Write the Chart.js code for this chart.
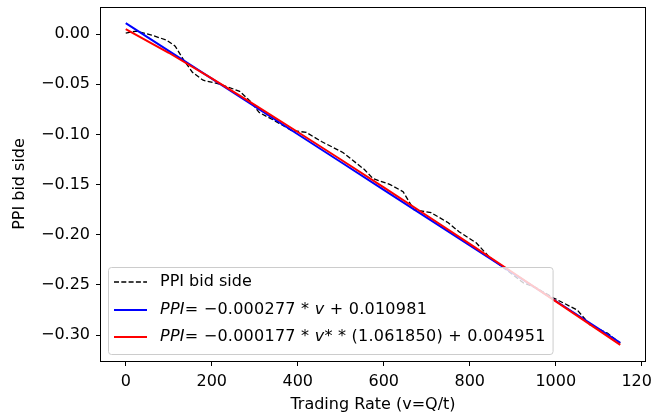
<!DOCTYPE html>
<html>
<head>
<meta charset="utf-8">
<script src="https://cdn.jsdelivr.net/npm/chart.js@4.4.0/dist/chart.umd.min.js"></script>
<style>
  html, body { margin: 0; padding: 0; background: #fff; }
  #wrap { width: 653px; height: 419px; }
</style>
</head>
<body>
<div id="wrap"><canvas id="chart" width="653" height="419"></canvas></div>
<script>
// PPI bid side
var rateV = [0, 25, 60, 95, 115, 135, 155, 180, 220, 265, 290, 310, 345, 385, 420, 455, 505, 555, 575,
             615, 645, 670, 710, 750, 775, 815, 845, 870, 925, 955, 995, 1050, 1080, 1120, 1150];
var ppiBid = [0.001, 0.003, -0.001, -0.006, -0.012, -0.026, -0.038, -0.046, -0.050, -0.057, -0.067, -0.078,
              -0.086, -0.096, -0.098, -0.107, -0.118, -0.135, -0.144, -0.150, -0.157, -0.175, -0.178, -0.188,
              -0.197, -0.208, -0.222, -0.230, -0.248, -0.253, -0.263, -0.275, -0.290, -0.298, -0.308];

// the two fitted curves, sampled along the rate axis
var fitV = [0, 100, 200, 300, 400, 500, 600, 700, 800, 900, 1000, 1100, 1150];
var fitLinear = [0.011, -0.0167, -0.0444, -0.0721, -0.0998, -0.1275, -0.1552, -0.1829, -0.2106,
                 -0.2383, -0.2660, -0.2937, -0.3076];
var fitPower = [0.005, -0.0186, -0.0442, -0.0706, -0.0976, -0.1250, -0.1528, -0.1808, -0.2091,
                -0.2376, -0.2663, -0.2952, -0.3098];

var xTicks = [0, 200, 400, 600, 800, 1000, 1200];
var yTicks = [0, -0.05, -0.10, -0.15, -0.20, -0.25, -0.30];
var yTickLabels = ['0.00', '\u22120.05', '\u22120.10', '\u22120.15', '\u22120.20', '\u22120.25', '\u22120.30'];

// legend rows: [text, italic]
var legendRows = [
  [['PPI bid side', false]],
  [['PPI', true], ['= \u22120.000277 * ', false], ['v', true], [' + 0.010981', false]],
  [['PPI', true], ['= \u22120.000177 * ', false], ['v', true], ['* * (1.061850) + 0.004951', false]]
];

var FAMILY = '"DejaVu Sans", sans-serif';
var FSIZE = 16;

function pts(xs, ys) {
  return xs.map(function(x, i) { return { x: x, y: ys[i] }; });
}

function setFont(ctx, italic, math) {
  ctx.font = (italic ? 'italic ' : '') + FSIZE + 'px ' + FAMILY;
  ctx.letterSpacing = math ? '0.25px' : '0px';
}

function rowWidth(ctx, row) {
  var w = 0;
  row.forEach(function(t) {
    setFont(ctx, t[1], row.length > 1);
    w += ctx.measureText(t[0]).width;
  });
  return w;
}

// spines + legend inside the axes
var frameAndLegend = {
  id: 'frameAndLegend',
  afterDatasetsDraw: function(chart) {
    var ctx = chart.ctx, a = chart.chartArea;
    var ds = chart.data.datasets;

    ctx.save();
    var left = a.left + 7, bottom = a.bottom - 7, top = bottom - 87;
    var textX = left + 52;
    var maxW = 0;
    legendRows.forEach(function(r) { maxW = Math.max(maxW, rowWidth(ctx, r)); });
    var right = textX + maxW + 7;

    ctx.beginPath();
    ctx.roundRect(left + 0.5, top + 0.5, right - left, bottom - top, 3);
    ctx.fillStyle = 'rgba(255,255,255,0.8)';
    ctx.fill();
    ctx.strokeStyle = '#cccccc';
    ctx.lineWidth = 1;
    ctx.stroke();

    var rowY = [top + 15, top + 43, top + 70];
    legendRows.forEach(function(row, i) {
      var d = ds[i];
      ctx.beginPath();
      ctx.setLineDash(d.borderDash || []);
      ctx.strokeStyle = d.borderColor;
      ctx.lineWidth = d.borderWidth;
      ctx.moveTo(left + 6, rowY[i]);
      ctx.lineTo(left + 39, rowY[i]);
      ctx.stroke();
      ctx.setLineDash([]);

      var x = textX;
      ctx.fillStyle = '#000';
      ctx.textBaseline = 'middle';
      ctx.textAlign = 'left';
      row.forEach(function(t) {
        setFont(ctx, t[1], row.length > 1);
        ctx.fillText(t[0], x, rowY[i]);
        x += ctx.measureText(t[0]).width;
      });
    });
    ctx.letterSpacing = '0px';

    // axes frame
    ctx.strokeStyle = '#000';
    ctx.lineWidth = 1;
    ctx.strokeRect(Math.round(a.left) - 0.5, Math.round(a.top) + 0.5,
                   Math.round(a.right - a.left) + 1, Math.round(a.bottom - a.top));
    ctx.restore();
  }
};

new Chart(document.getElementById('chart'), {
  type: 'line',
  data: {
    datasets: [
      { label: 'PPI bid side', data: pts(rateV, ppiBid), borderColor: '#000', borderWidth: 1.3,
        borderDash: [5, 2.3], order: 3 },
      { label: 'linear fit', data: pts(fitV, fitLinear), borderColor: '#0000ff', borderWidth: 2, order: 2 },
      { label: 'power fit', data: pts(fitV, fitPower), borderColor: '#ff0000', borderWidth: 2, order: 1 }
    ]
  },
  options: {
    responsive: false,
    animation: false,
    layout: { padding: { top: 7, right: 8, bottom: 0, left: 0 } },
    elements: { point: { radius: 0 }, line: { tension: 0, fill: false } },
    plugins: { legend: { display: false }, tooltip: { enabled: false } },
    scales: {
      x: {
        type: 'linear', min: -57.5, max: 1207.5, bounds: 'data',
        afterBuildTicks: function(s) { s.ticks = xTicks.map(function(v) { return { value: v }; }); },
        afterFit: function(s) { s.height = 58; s.paddingLeft = 0; s.paddingRight = 0; },
        grid: { drawOnChartArea: false, drawTicks: true, tickLength: 5, color: '#000' },
        border: { display: false },
        ticks: { color: '#000', padding: 6, maxRotation: 0, autoSkip: false,
                 font: { family: FAMILY, size: FSIZE },
                 callback: function(v) { return String(v); } },
        title: { display: true, text: 'Trading Rate (v=Q/t)', color: '#000',
                 font: { family: FAMILY, size: FSIZE }, padding: { top: 0, bottom: 5 } }
      },
      y: {
        type: 'linear', min: -0.3258, max: 0.0270, bounds: 'data',
        afterBuildTicks: function(s) { s.ticks = yTicks.map(function(v) { return { value: v }; }); },
        afterFit: function(s) { s.width = 101; s.paddingTop = 0; s.paddingBottom = 0; },
        grid: { drawOnChartArea: false, drawTicks: true, tickLength: 5, color: '#000' },
        border: { display: false },
        ticks: { color: '#000', padding: 6, autoSkip: false,
                 font: { family: FAMILY, size: FSIZE },
                 callback: function(v) {
                   for (var i = 0; i < yTicks.length; i++) {
                     if (Math.abs(yTicks[i] - v) < 1e-9) return yTickLabels[i];
                   }
                   return '';
                 } },
        title: { display: true, text: 'PPI bid side', color: '#000',
                 font: { family: FAMILY, size: FSIZE }, padding: { top: 10, bottom: 0 } }
      }
    }
  },
  plugins: [frameAndLegend]
});
</script>
</body>
</html>
